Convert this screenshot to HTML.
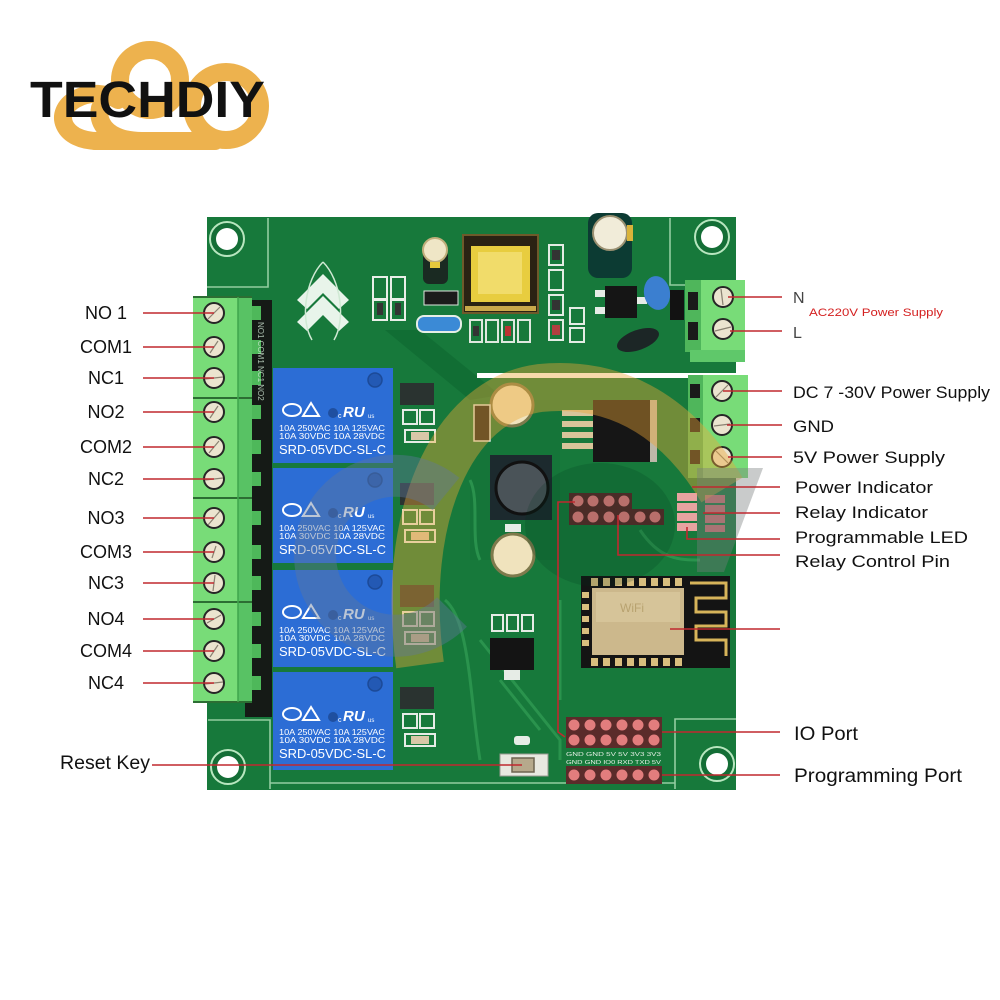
<!DOCTYPE html>
<html><head><meta charset="utf-8"><style>html,body{margin:0;padding:0;background:#fff}svg{display:block}</style></head>
<body>
<svg width="1000" height="1000" viewBox="0 0 1000 1000" xmlns="http://www.w3.org/2000/svg" font-family="Liberation Sans, Arial, sans-serif">
<rect width="1000" height="1000" fill="#fff"/>

<!-- LOGO -->
<g fill="none" stroke="#EDB24E" stroke-width="18" stroke-linecap="round">
  <circle cx="150" cy="80" r="30"/>
  <circle cx="226" cy="106" r="34"/>
  <path d="M95 141 L215 141"/>
  <path d="M100 141 C62 142 52 112 76 99 C90 91 106 93 118 100"/>
  <path d="M142 141 C112 141 96 126 100 108"/>
</g>
<text x="30" y="117" font-weight="bold" font-size="51" textLength="235" lengthAdjust="spacingAndGlyphs" fill="#111">TECHDIY</text>

<!-- BOARD -->
<rect x="207" y="217" width="529" height="573" fill="#17793b"/>
<path d="M385 330 L420 330 L500 395 L470 400 Z" fill="#106a32" opacity="0.7"/>
<path d="M470 400 L560 400 L560 560 L470 560 Z" fill="#147338" opacity="0.6"/>
<g fill="none" stroke="#2f9a52" stroke-width="3" opacity="0.8">
  <path d="M480 640 L560 740 L560 760"/>
  <path d="M500 680 L540 730"/>
  <path d="M445 600 C470 620 470 700 480 760"/>
  <path d="M560 600 L560 700"/>
  <path d="M470 480 C480 500 470 540 480 560"/>
  <path d="M640 530 C660 560 680 560 700 560"/>
</g>
<g fill="none" stroke="#a9dcb3" stroke-width="1.6" opacity="0.85">
  <path d="M268 218 L268 287 L207 287"/>
  <path d="M670 218 L670 285 L735 285"/>
  <path d="M208 720 L270 720 L270 789"/>
  <path d="M675 789 L675 719 L736 719"/>
  <path d="M270 783 L675 783"/>
</g>
<rect x="477" y="373" width="262" height="5" fill="#fff"/>

<!-- holes -->
<g>
  <circle cx="227" cy="239" r="17" fill="#146e36" stroke="#b8e6bf" stroke-width="2"/><circle cx="227" cy="239" r="11" fill="#fff"/>
  <circle cx="712" cy="237" r="17" fill="#146e36" stroke="#b8e6bf" stroke-width="2"/><circle cx="712" cy="237" r="11" fill="#fff"/>
  <circle cx="228" cy="767" r="17" fill="#146e36" stroke="#b8e6bf" stroke-width="2"/><circle cx="228" cy="767" r="11" fill="#fff"/>
  <circle cx="717" cy="764" r="17" fill="#146e36" stroke="#b8e6bf" stroke-width="2"/><circle cx="717" cy="764" r="11" fill="#fff"/>
</g>

<!-- chevron logo on board -->
<g fill="#e8f4ea">
  <path d="M297 300 L323 274 L349 300 L339 309 L323 293 L307 309 Z"/>
  <path d="M297 322 L323 296 L349 322 L339 331 L323 315 L307 331 Z"/>
</g>
<path d="M323 262 C305 280 300 320 312 340 M323 262 C341 280 346 320 334 340" fill="none" stroke="#cfe9d3" stroke-width="1.5"/>

<!-- top components -->
<g>
  <rect x="423" y="250" width="25" height="34" rx="6" fill="#1a2a22"/>
  <circle cx="435" cy="250" r="12" fill="#efe6c6" stroke="#bfae7a" stroke-width="2"/>
  <rect x="430" y="262" width="10" height="6" fill="#e6c93c"/>
  <rect x="373" y="277" width="14" height="22" fill="none" stroke="#e9efe8" stroke-width="2"/>
  <rect x="391" y="277" width="14" height="22" fill="none" stroke="#e9efe8" stroke-width="2"/>
  <rect x="373" y="300" width="14" height="20" fill="none" stroke="#e9efe8" stroke-width="2"/>
  <rect x="391" y="300" width="14" height="20" fill="none" stroke="#e9efe8" stroke-width="2"/>
  <rect x="377" y="303" width="6" height="12" fill="#333"/><rect x="395" y="303" width="6" height="12" fill="#333"/>
  <rect x="424" y="291" width="34" height="14" fill="#1b1b1b" stroke="#dfe7df" stroke-width="1"/>
  <rect x="417" y="316" width="44" height="16" rx="7" fill="#3b8ad6" stroke="#e6eee6" stroke-width="2"/>
  <rect x="463" y="235" width="75" height="78" fill="#2a2213" stroke="#6e5a2a" stroke-width="2"/>
  <rect x="471" y="246" width="59" height="56" fill="#e8cd3f"/>
  <rect x="478" y="252" width="44" height="42" fill="#f1dc6a"/>
  <rect x="465" y="306" width="71" height="5" fill="#c9a94a"/>
  <g fill="none" stroke="#dfe8df" stroke-width="2">
    <rect x="470" y="320" width="12" height="22"/><rect x="486" y="320" width="12" height="22"/>
    <rect x="502" y="320" width="12" height="22"/><rect x="518" y="320" width="12" height="22"/>
  </g>
  <rect x="473" y="326" width="6" height="10" fill="#333"/><rect x="505" y="326" width="6" height="10" fill="#b33"/>
  <g fill="none" stroke="#e4ece4" stroke-width="2">
    <rect x="549" y="245" width="14" height="20"/><rect x="549" y="270" width="14" height="20"/>
    <rect x="549" y="295" width="14" height="20"/><rect x="549" y="320" width="14" height="20"/>
    <rect x="570" y="308" width="14" height="16"/><rect x="570" y="328" width="14" height="14"/>
  </g>
  <rect x="552" y="250" width="8" height="10" fill="#333"/><rect x="552" y="300" width="8" height="10" fill="#333"/><rect x="552" y="325" width="8" height="10" fill="#b04040"/>
  <rect x="588" y="213" width="44" height="65" rx="10" fill="#0c3b33"/>
  <circle cx="610" cy="233" r="17" fill="#f1ecd9" stroke="#9a9071" stroke-width="2"/>
  <rect x="627" y="225" width="6" height="16" fill="#d9b33a"/>
  <rect x="605" y="286" width="32" height="32" fill="#151515"/>
  <rect x="595" y="290" width="10" height="7" fill="#e7ece7"/><rect x="595" y="307" width="10" height="7" fill="#e7ece7"/>
  <rect x="637" y="297" width="10" height="7" fill="#e7ece7"/>
  <ellipse cx="657" cy="293" rx="13" ry="17" fill="#3b7fd0" transform="rotate(-10 657 293)"/>
  <ellipse cx="638" cy="340" rx="22" ry="10" fill="#1c2626" transform="rotate(-20 638 340)"/>
  <rect x="670" y="290" width="14" height="30" fill="#121212"/>
</g>

<!-- LEFT dark strip behind terminals -->
<rect x="245" y="300" width="27" height="417" fill="#151a16"/>
<g fill="#4eb85a">
  <rect x="247" y="306" width="14" height="14"/><rect x="247" y="340" width="14" height="14"/><rect x="247" y="371" width="14" height="14"/>
  <rect x="247" y="405" width="14" height="14"/><rect x="247" y="440" width="14" height="14"/><rect x="247" y="472" width="14" height="14"/>
  <rect x="247" y="511" width="14" height="14"/><rect x="247" y="545" width="14" height="14"/><rect x="247" y="576" width="14" height="14"/>
  <rect x="247" y="612" width="14" height="14"/><rect x="247" y="644" width="14" height="14"/><rect x="247" y="676" width="14" height="14"/>
</g>
<text transform="translate(258 322) rotate(90)" font-size="8" fill="#cfe6d3" opacity="0.8">NO1 COM1 NC1 NO2</text>

<!-- LEFT terminal blocks -->
<g>
  <rect x="193" y="297" width="45" height="405" fill="#78dc78"/>
  <rect x="238" y="297" width="14" height="405" fill="#58c264"/>
  <g stroke="#2c6e33" stroke-width="2">
    <line x1="193" y1="398" x2="252" y2="398"/><line x1="193" y1="498" x2="252" y2="498"/><line x1="193" y1="602" x2="252" y2="602"/>
    <line x1="193" y1="297" x2="252" y2="297"/><line x1="193" y1="702" x2="252" y2="702"/>
  </g>
  <line x1="238" y1="297" x2="238" y2="702" stroke="#3fa54c" stroke-width="1.5"/>
  <g fill="#ebe4cf" stroke="#262626" stroke-width="2">
    <circle cx="214" cy="313" r="10"/><circle cx="214" cy="347" r="10"/><circle cx="214" cy="378" r="10"/>
    <circle cx="214" cy="412" r="10"/><circle cx="214" cy="447" r="10"/><circle cx="214" cy="479" r="10"/>
    <circle cx="214" cy="518" r="10"/><circle cx="214" cy="552" r="10"/><circle cx="214" cy="583" r="10"/>
    <circle cx="214" cy="619" r="10"/><circle cx="214" cy="651" r="10"/><circle cx="214" cy="683" r="10"/>
  </g>
  <g stroke="#8a8272" stroke-width="1.2">
    <line x1="208" y1="319" x2="220" y2="307"/><line x1="210" y1="353" x2="218" y2="341"/><line x1="205" y1="379" x2="223" y2="377"/>
    <line x1="210" y1="418" x2="218" y2="406"/><line x1="209" y1="453" x2="219" y2="441"/><line x1="205" y1="480" x2="223" y2="478"/>
    <line x1="208" y1="525" x2="220" y2="511"/><line x1="212" y1="558" x2="216" y2="546"/><line x1="213" y1="591" x2="215" y2="575"/>
    <line x1="207" y1="623" x2="221" y2="615"/><line x1="210" y1="657" x2="218" y2="645"/><line x1="205" y1="684" x2="223" y2="682"/>
  </g>
</g>

<!-- RELAYS -->
<g id="relays">
  <g transform="translate(0 368)">
    <rect x="273" y="0" width="120" height="95" fill="#2c6dd5"/>
    <circle cx="375" cy="12" r="7" fill="#2359b4" stroke="#1c4a98" stroke-width="1.5"/>
    <circle cx="333" cy="45" r="5" fill="#1f4fa0"/>
    <ellipse cx="292" cy="42" rx="9" ry="6" fill="none" stroke="#fff" stroke-width="2"/>
    <polygon points="303,48 311,35 319,48" fill="none" stroke="#fff" stroke-width="2"/>
    <text x="343" y="49" font-size="15" font-weight="bold" font-style="italic" fill="#fff">RU</text>
    <text x="338" y="50" font-size="7" fill="#fff">c</text><text x="368" y="50" font-size="6" fill="#fff">us</text>
    <text x="279" y="63" font-size="8" fill="#fff" textLength="106" lengthAdjust="spacingAndGlyphs">10A 250VAC 10A 125VAC</text>
    <text x="279" y="71" font-size="8" fill="#fff" textLength="106" lengthAdjust="spacingAndGlyphs">10A  30VDC 10A  28VDC</text>
    <text x="279" y="86" font-size="13" fill="#fff" textLength="107" lengthAdjust="spacingAndGlyphs">SRD-05VDC-SL-C</text>
  </g>
  <g transform="translate(0 468)">
    <rect x="273" y="0" width="120" height="95" fill="#2c6dd5"/>
    <circle cx="375" cy="12" r="7" fill="#2359b4" stroke="#1c4a98" stroke-width="1.5"/>
    <circle cx="333" cy="45" r="5" fill="#1f4fa0"/>
    <ellipse cx="292" cy="42" rx="9" ry="6" fill="none" stroke="#fff" stroke-width="2"/>
    <polygon points="303,48 311,35 319,48" fill="none" stroke="#fff" stroke-width="2"/>
    <text x="343" y="49" font-size="15" font-weight="bold" font-style="italic" fill="#fff">RU</text>
    <text x="338" y="50" font-size="7" fill="#fff">c</text><text x="368" y="50" font-size="6" fill="#fff">us</text>
    <text x="279" y="63" font-size="8" fill="#fff" textLength="106" lengthAdjust="spacingAndGlyphs">10A 250VAC 10A 125VAC</text>
    <text x="279" y="71" font-size="8" fill="#fff" textLength="106" lengthAdjust="spacingAndGlyphs">10A  30VDC 10A  28VDC</text>
    <text x="279" y="86" font-size="13" fill="#fff" textLength="107" lengthAdjust="spacingAndGlyphs">SRD-05VDC-SL-C</text>
  </g>
  <g transform="translate(0 570)">
    <rect x="273" y="0" width="120" height="97" fill="#2c6dd5"/>
    <circle cx="375" cy="12" r="7" fill="#2359b4" stroke="#1c4a98" stroke-width="1.5"/>
    <circle cx="333" cy="45" r="5" fill="#1f4fa0"/>
    <ellipse cx="292" cy="42" rx="9" ry="6" fill="none" stroke="#fff" stroke-width="2"/>
    <polygon points="303,48 311,35 319,48" fill="none" stroke="#fff" stroke-width="2"/>
    <text x="343" y="49" font-size="15" font-weight="bold" font-style="italic" fill="#fff">RU</text>
    <text x="338" y="50" font-size="7" fill="#fff">c</text><text x="368" y="50" font-size="6" fill="#fff">us</text>
    <text x="279" y="63" font-size="8" fill="#fff" textLength="106" lengthAdjust="spacingAndGlyphs">10A 250VAC 10A 125VAC</text>
    <text x="279" y="71" font-size="8" fill="#fff" textLength="106" lengthAdjust="spacingAndGlyphs">10A  30VDC 10A  28VDC</text>
    <text x="279" y="86" font-size="13" fill="#fff" textLength="107" lengthAdjust="spacingAndGlyphs">SRD-05VDC-SL-C</text>
  </g>
  <g transform="translate(0 672)">
    <rect x="273" y="0" width="120" height="98" fill="#2c6dd5"/>
    <circle cx="375" cy="12" r="7" fill="#2359b4" stroke="#1c4a98" stroke-width="1.5"/>
    <circle cx="333" cy="45" r="5" fill="#1f4fa0"/>
    <ellipse cx="292" cy="42" rx="9" ry="6" fill="none" stroke="#fff" stroke-width="2"/>
    <polygon points="303,48 311,35 319,48" fill="none" stroke="#fff" stroke-width="2"/>
    <text x="343" y="49" font-size="15" font-weight="bold" font-style="italic" fill="#fff">RU</text>
    <text x="338" y="50" font-size="7" fill="#fff">c</text><text x="368" y="50" font-size="6" fill="#fff">us</text>
    <text x="279" y="63" font-size="8" fill="#fff" textLength="106" lengthAdjust="spacingAndGlyphs">10A 250VAC 10A 125VAC</text>
    <text x="279" y="71" font-size="8" fill="#fff" textLength="106" lengthAdjust="spacingAndGlyphs">10A  30VDC 10A  28VDC</text>
    <text x="279" y="86" font-size="13" fill="#fff" textLength="107" lengthAdjust="spacingAndGlyphs">SRD-05VDC-SL-C</text>
  </g>
</g>

<!-- components right of relays -->
<g>
  <g transform="translate(0 368)">
    <rect x="400" y="15" width="34" height="22" fill="#2a3330"/>
    <rect x="403" y="42" width="14" height="14" fill="none" stroke="#e6ece6" stroke-width="2"/><rect x="420" y="42" width="14" height="14" fill="none" stroke="#e6ece6" stroke-width="2"/>
    <rect x="405" y="62" width="30" height="12" fill="none" stroke="#e6ece6" stroke-width="2"/><rect x="411" y="64" width="18" height="8" fill="#d9c7a8"/>
  </g>
  <g transform="translate(0 468)">
    <rect x="400" y="15" width="34" height="22" fill="#2a3330"/>
    <rect x="403" y="42" width="14" height="14" fill="none" stroke="#e6ece6" stroke-width="2"/><rect x="420" y="42" width="14" height="14" fill="none" stroke="#e6ece6" stroke-width="2"/>
    <rect x="405" y="62" width="30" height="12" fill="none" stroke="#e6ece6" stroke-width="2"/><rect x="411" y="64" width="18" height="8" fill="#d9c7a8"/>
  </g>
  <g transform="translate(0 570)">
    <rect x="400" y="15" width="34" height="22" fill="#2a3330"/>
    <rect x="403" y="42" width="14" height="14" fill="none" stroke="#e6ece6" stroke-width="2"/><rect x="420" y="42" width="14" height="14" fill="none" stroke="#e6ece6" stroke-width="2"/>
    <rect x="405" y="62" width="30" height="12" fill="none" stroke="#e6ece6" stroke-width="2"/><rect x="411" y="64" width="18" height="8" fill="#d9c7a8"/>
  </g>
  <g transform="translate(0 672)">
    <rect x="400" y="15" width="34" height="22" fill="#2a3330"/>
    <rect x="403" y="42" width="14" height="14" fill="none" stroke="#e6ece6" stroke-width="2"/><rect x="420" y="42" width="14" height="14" fill="none" stroke="#e6ece6" stroke-width="2"/>
    <rect x="405" y="62" width="30" height="12" fill="none" stroke="#e6ece6" stroke-width="2"/><rect x="411" y="64" width="18" height="8" fill="#d9c7a8"/>
  </g>
</g>

<!-- middle components -->
<g>
  <circle cx="512" cy="405" r="21" fill="#f0e3bd" stroke="#7e7a4c" stroke-width="3"/>
  <rect x="474" y="405" width="16" height="36" fill="#1a1a1a" stroke="#dfe6df" stroke-width="1.5"/>
  <rect x="593" y="400" width="64" height="62" fill="#161616"/>
  <rect x="650" y="400" width="7" height="62" fill="#bdb8a8"/>
  <g fill="#d8c59a"><rect x="562" y="410" width="31" height="6"/><rect x="562" y="421" width="31" height="6"/><rect x="562" y="432" width="31" height="6"/><rect x="562" y="443" width="31" height="6"/></g>
  <rect x="490" y="455" width="62" height="65" fill="#1c2a2e"/>
  <circle cx="522" cy="488" r="26" fill="#4a5358" stroke="#111" stroke-width="3"/>
  <circle cx="513" cy="555" r="21" fill="#f0e3bd" stroke="#7e7a4c" stroke-width="3"/>
  <rect x="505" y="524" width="16" height="8" fill="#e7ece7"/>
  <g fill="none" stroke="#e6ece6" stroke-width="2"><rect x="492" y="615" width="11" height="16"/><rect x="507" y="615" width="11" height="16"/><rect x="522" y="615" width="11" height="16"/></g>
  <rect x="490" y="638" width="44" height="32" fill="#141414"/>
  <rect x="504" y="670" width="16" height="10" fill="#e6ece6"/>
  <rect x="500" y="754" width="48" height="22" fill="#e8e8e0" stroke="#9a9a92" stroke-width="1"/>
  <rect x="512" y="758" width="22" height="14" fill="#b6a98c" stroke="#6e6450" stroke-width="1.5"/>
  <rect x="514" y="736" width="16" height="9" rx="3" fill="#e6ece6"/>
</g>

<!-- relay control header -->
<g>
  <rect x="569" y="493" width="63" height="16" fill="#5b2b2a"/>
  <rect x="569" y="509" width="95" height="16" fill="#5b2b2a"/>
  <g fill="#e27d7d">
    <circle cx="578" cy="501" r="5.5"/><circle cx="593" cy="501" r="5.5"/><circle cx="609" cy="501" r="5.5"/><circle cx="624" cy="501" r="5.5"/>
    <circle cx="578" cy="517" r="5.5"/><circle cx="593" cy="517" r="5.5"/><circle cx="609" cy="517" r="5.5"/><circle cx="624" cy="517" r="5.5"/><circle cx="640" cy="517" r="5.5"/><circle cx="655" cy="517" r="5.5"/>
  </g>
  <g fill="#e7a3a0"><rect x="677" y="493" width="20" height="8"/><rect x="677" y="503" width="20" height="8"/><rect x="677" y="513" width="20" height="8"/><rect x="677" y="523" width="20" height="8"/></g>
  <g fill="#c86e6e"><rect x="705" y="495" width="20" height="8"/><rect x="705" y="505" width="20" height="8"/><rect x="705" y="515" width="20" height="8"/><rect x="705" y="525" width="20" height="7"/></g>
</g>

<!-- ESP module -->
<g>
  <rect x="581" y="576" width="149" height="92" fill="#141414"/>
  <g fill="none" stroke="#d7b45a" stroke-width="3">
    <path d="M690 583 L726 583 L726 598 L696 598 L696 612 L726 612 L726 626 L696 626 L696 640 L726 640 L726 656"/>
  </g>
  <g fill="#d8be7e">
    <rect x="591" y="578" width="7" height="8"/><rect x="603" y="578" width="7" height="8"/><rect x="615" y="578" width="7" height="8"/><rect x="627" y="578" width="7" height="8"/><rect x="639" y="578" width="7" height="8"/><rect x="651" y="578" width="7" height="8"/><rect x="663" y="578" width="7" height="8"/><rect x="675" y="578" width="7" height="8"/>
    <rect x="591" y="658" width="7" height="8"/><rect x="603" y="658" width="7" height="8"/><rect x="615" y="658" width="7" height="8"/><rect x="627" y="658" width="7" height="8"/><rect x="639" y="658" width="7" height="8"/><rect x="651" y="658" width="7" height="8"/><rect x="663" y="658" width="7" height="8"/><rect x="675" y="658" width="7" height="8"/>
    <rect x="582" y="592" width="7" height="6"/><rect x="582" y="604" width="7" height="6"/><rect x="582" y="616" width="7" height="6"/><rect x="582" y="628" width="7" height="6"/><rect x="582" y="640" width="7" height="6"/>
  </g>
  <rect x="592" y="588" width="92" height="67" fill="#ccb88c"/>
  <rect x="596" y="592" width="84" height="30" fill="#d6c499"/>
  <text x="620" y="612" font-size="12" fill="#b8a270">WiFi</text>
</g>

<!-- IO header & programming header -->
<g>
  <rect x="566" y="717" width="96" height="31" fill="#5b2b2a"/>
  <rect x="566" y="766" width="96" height="18" fill="#5b2b2a"/>
  <g fill="#e27d7d">
    <circle cx="574" cy="725" r="5.5"/><circle cx="590" cy="725" r="5.5"/><circle cx="606" cy="725" r="5.5"/><circle cx="622" cy="725" r="5.5"/><circle cx="638" cy="725" r="5.5"/><circle cx="654" cy="725" r="5.5"/>
    <circle cx="574" cy="740" r="5.5"/><circle cx="590" cy="740" r="5.5"/><circle cx="606" cy="740" r="5.5"/><circle cx="622" cy="740" r="5.5"/><circle cx="638" cy="740" r="5.5"/><circle cx="654" cy="740" r="5.5"/>
    <circle cx="574" cy="775" r="5.5"/><circle cx="590" cy="775" r="5.5"/><circle cx="606" cy="775" r="5.5"/><circle cx="622" cy="775" r="5.5"/><circle cx="638" cy="775" r="5.5"/><circle cx="654" cy="775" r="5.5"/>
  </g>
  <text x="566" y="756" font-size="5" fill="#e6efe6" textLength="95" lengthAdjust="spacingAndGlyphs">GND GND 5V 5V 3V3 3V3</text>
  <text x="566" y="764" font-size="5" fill="#e6efe6" textLength="95" lengthAdjust="spacingAndGlyphs">GND GND IO0 RXD TXD 5V</text>
</g>

<!-- AC terminal (top right) -->
<g>
  <rect x="685" y="280" width="60" height="72" fill="#78dc78"/>
  <rect x="685" y="280" width="16" height="72" fill="#4fb65b"/>
  <rect x="688" y="292" width="10" height="18" fill="#1a1a1a"/><rect x="688" y="322" width="10" height="18" fill="#1a1a1a"/>
  <rect x="690" y="350" width="55" height="12" fill="#5fc86a"/>
  <g fill="#ebe4cf" stroke="#262626" stroke-width="2"><circle cx="723" cy="297" r="10"/><circle cx="723" cy="329" r="10"/></g>
  <g stroke="#8a8272" stroke-width="1.2"><line x1="721" y1="289" x2="723" y2="305"/><line x1="715" y1="331" x2="731" y2="327"/></g>
</g>
<!-- DC terminal -->
<g>
  <rect x="688" y="375" width="60" height="103" fill="#78dc78"/>
  <rect x="688" y="375" width="15" height="103" fill="#4fb65b"/>
  <rect x="690" y="384" width="10" height="14" fill="#1a1a1a"/><rect x="690" y="418" width="10" height="14" fill="#1a1a1a"/><rect x="690" y="450" width="10" height="14" fill="#1a1a1a"/>
  <g fill="#ebe4cf" stroke="#262626" stroke-width="2"><circle cx="722" cy="391" r="10"/><circle cx="722" cy="425" r="10"/><circle cx="722" cy="457" r="10"/></g>
  <g stroke="#8a8272" stroke-width="1.2"><line x1="716" y1="397" x2="728" y2="385"/><line x1="714" y1="426" x2="730" y2="424"/><line x1="716" y1="451" x2="728" y2="463"/></g>
</g>

<!-- WATERMARK overlay -->
<g fill="none" stroke-linecap="butt">
  <path d="M420 665 C400 520 450 400 540 388 C620 380 680 420 722 490" stroke="rgba(236,168,55,0.42)" stroke-width="48"/>
  <path d="M446 494 A80 80 0 1 0 452 612" stroke="rgba(95,120,155,0.42)" stroke-width="42"/>
</g>
<ellipse cx="600" cy="525" rx="75" ry="62" fill="rgba(0,50,30,0.18)"/>
<polygon points="697,468 763,468 724,572 697,572" fill="rgba(120,125,125,0.4)"/>

<!-- LEADER LINES -->
<g stroke="#c0282f" stroke-width="1.6" fill="none">
  <line x1="143" y1="313" x2="214" y2="313"/><line x1="143" y1="347" x2="214" y2="347"/><line x1="143" y1="378" x2="214" y2="378"/>
  <line x1="143" y1="412" x2="214" y2="412"/><line x1="143" y1="447" x2="214" y2="447"/><line x1="143" y1="479" x2="214" y2="479"/>
  <line x1="143" y1="518" x2="214" y2="518"/><line x1="143" y1="552" x2="214" y2="552"/><line x1="143" y1="583" x2="214" y2="583"/>
  <line x1="143" y1="619" x2="214" y2="619"/><line x1="143" y1="651" x2="214" y2="651"/><line x1="143" y1="683" x2="214" y2="683"/>
  <line x1="152" y1="765" x2="522" y2="765"/>
  <line x1="728" y1="297" x2="782" y2="297"/>
  <line x1="730" y1="331" x2="782" y2="331"/>
  <line x1="723" y1="391" x2="782" y2="391"/>
  <line x1="727" y1="425" x2="782" y2="425"/>
  <line x1="728" y1="457" x2="782" y2="457"/>
  <line x1="692" y1="487" x2="780" y2="487"/>
  <line x1="703" y1="513" x2="780" y2="513"/>
  <path d="M687 527 L687 539 L780 539"/>
  <path d="M618 515 L618 555 L780 555"/>
  <line x1="670" y1="629" x2="780" y2="629"/>
  <path d="M575 502 L558 502 L558 732 L565 737"/>
  <line x1="662" y1="732" x2="780" y2="732"/>
  <line x1="662" y1="775" x2="780" y2="775"/>
</g>

<!-- LABELS -->
<g fill="#111" font-size="18" text-anchor="middle">
  <text x="106" y="319">NO 1</text>
  <text x="106" y="353">COM1</text>
  <text x="106" y="384">NC1</text>
  <text x="106" y="418">NO2</text>
  <text x="106" y="453">COM2</text>
  <text x="106" y="485">NC2</text>
  <text x="106" y="524">NO3</text>
  <text x="106" y="558">COM3</text>
  <text x="106" y="589">NC3</text>
  <text x="106" y="625">NO4</text>
  <text x="106" y="657">COM4</text>
  <text x="106" y="689">NC4</text>
</g>
<text x="60" y="769" font-size="19" fill="#111" textLength="90" lengthAdjust="spacingAndGlyphs">Reset Key</text>

<text x="793" y="303" font-size="16" fill="#444">N</text>
<text x="809" y="316" font-size="11" fill="#d42020" textLength="134" lengthAdjust="spacingAndGlyphs">AC220V Power Supply</text>
<text x="793" y="338" font-size="16" fill="#444">L</text>
<g fill="#111" font-size="17">
  <text x="793" y="398" textLength="197" lengthAdjust="spacingAndGlyphs">DC 7 -30V Power Supply</text>
  <text x="793" y="432" textLength="41" lengthAdjust="spacingAndGlyphs">GND</text>
  <text x="793" y="463" textLength="152" lengthAdjust="spacingAndGlyphs">5V Power Supply</text>
  <text x="795" y="493" textLength="138" lengthAdjust="spacingAndGlyphs">Power Indicator</text>
  <text x="795" y="518" textLength="133" lengthAdjust="spacingAndGlyphs">Relay Indicator</text>
  <text x="795" y="543" textLength="173" lengthAdjust="spacingAndGlyphs">Programmable LED</text>
  <text x="795" y="567" textLength="155" lengthAdjust="spacingAndGlyphs">Relay Control Pin</text>
</g>
<text x="794" y="740" font-size="19" fill="#111" textLength="64" lengthAdjust="spacingAndGlyphs">IO Port</text>
<text x="794" y="782" font-size="19" fill="#111" textLength="168" lengthAdjust="spacingAndGlyphs">Programming  Port</text>
</svg>
</body></html>
